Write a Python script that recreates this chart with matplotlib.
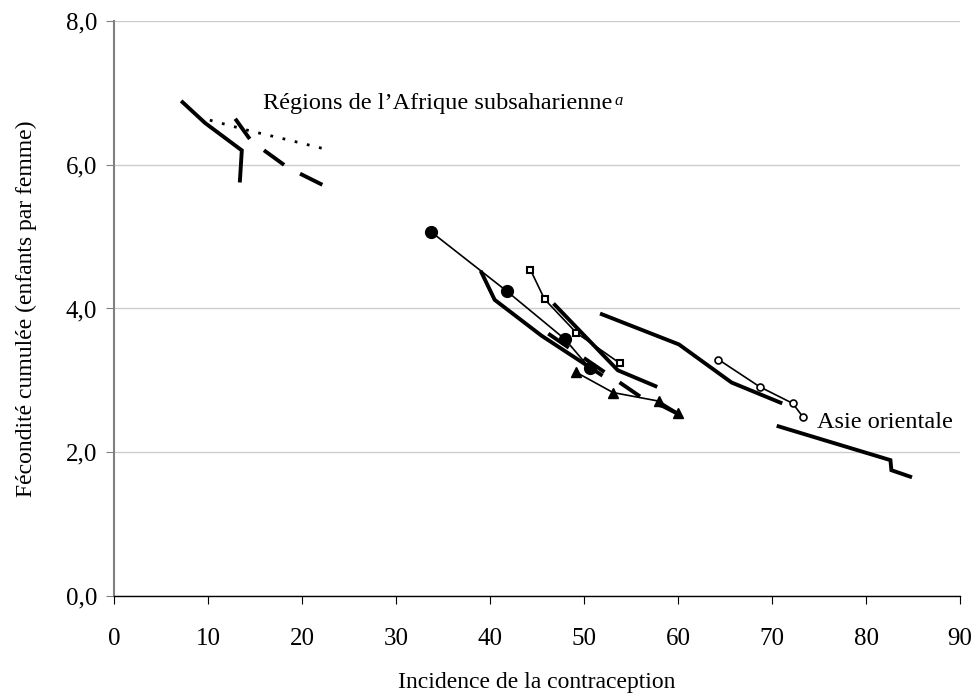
import matplotlib.pyplot as plt

plt.rcParams['font.family'] = ['Liberation Serif', 'DejaVu Serif']

# Afrique subsaharienne (three regions)
afr_solid_x = [7.3, 9.7, 13.6, 13.4]
afr_solid_y = [6.87, 6.58, 6.20, 5.78]
afr_dot_x = [10.2, 14.5, 18.4, 22.1]
afr_dot_y = [6.62, 6.47, 6.35, 6.23]
afr_dash_x = [12.9, 14.6, 18.5, 22.8]
afr_dash_y = [6.64, 6.33, 5.96, 5.68]

# middle group
circ_x = [33.7, 41.8, 48.0, 50.6]
circ_y = [5.07, 4.24, 3.57, 3.17]
sq_x = [44.3, 45.8, 49.2, 53.8]
sq_y = [4.54, 4.13, 3.66, 3.24]
tri_x = [49.2, 53.1, 58.0, 60.0]
tri_y = [3.11, 2.83, 2.71, 2.55]
thickA_x = [39.1, 40.5, 45.5, 51.8]
thickA_y = [4.50, 4.12, 3.62, 3.08]
thickB_x = [46.9, 53.6, 57.6]
thickB_y = [4.05, 3.14, 2.92]
dashM_x = [46.2, 52.8, 56.7, 58.4, 60.5]
dashM_y = [3.65, 3.06, 2.71, 2.64, 2.50]

# right group
thickC_x = [51.9, 60.1, 65.7, 70.9]
thickC_y = [3.92, 3.50, 2.97, 2.69]
ocirc_x = [64.3, 68.7, 72.2, 73.3]
ocirc_y = [3.29, 2.91, 2.68, 2.49]
asie_x = [70.7, 82.6, 82.7, 84.7]
asie_y = [2.36, 1.89, 1.75, 1.66]

yticks = [0, 2, 4, 6, 8]
ytick_labels = ['0,0', '2,0', '4,0', '6,0', '8,0']
xticks = list(range(0, 100, 10))

fig = plt.figure(figsize=(9.79, 6.93), dpi=100)
ax = fig.add_axes([0.1164, 0.140, 0.8642, 0.8297])

thick = 2.8
dash = (0, (6.4, 4.7))

ax.plot(afr_solid_x, afr_solid_y, color='black', lw=thick, solid_joinstyle='miter')
ax.plot(afr_dot_x, afr_dot_y, color='black', lw=2, linestyle=(0, (1, 3.5)))
ax.plot(afr_dash_x, afr_dash_y, color='black', lw=thick, linestyle=dash)

ax.plot(thickA_x, thickA_y, color='black', lw=thick, solid_joinstyle='miter')
ax.plot(thickB_x, thickB_y, color='black', lw=thick)
ax.plot(dashM_x, dashM_y, color='black', lw=thick, linestyle=dash)
ax.plot(circ_x, circ_y, color='black', lw=1.2, marker='o', markersize=8.5)
ax.plot(sq_x, sq_y, color='black', lw=1.2, marker='s', markersize=5,
        markerfacecolor='white', markeredgewidth=1.5)
ax.plot(tri_x, tri_y, color='black', lw=1.2, marker='^', markersize=7.5)

ax.plot(thickC_x, thickC_y, color='black', lw=thick)
ax.plot(ocirc_x, ocirc_y, color='black', lw=1.2, marker='o', markersize=5,
        markerfacecolor='white', markeredgewidth=1.2)
ax.plot(asie_x, asie_y, color='black', lw=thick, solid_joinstyle='miter')

t = ax.text(15.85, 6.85, 'Régions de l’Afrique subsaharienne', fontsize=17.5,
            va='center', ha='left')
ax.annotate('a', xy=(1, 1), xycoords=t, xytext=(1.5, 0), textcoords='offset points',
            va='top', ha='left', fontsize=12, style='italic')
ax.text(74.8, 2.41, 'Asie orientale', fontsize=17.5, va='center', ha='left')

ax.set_xlim(0, 90)
ax.set_ylim(0, 8)
ax.set_xticks(xticks)
ax.set_yticks(yticks)
ax.set_yticklabels(ytick_labels)
ax.tick_params(axis='both', direction='out', length=6, labelsize=18)
ax.tick_params(axis='x', pad=17)
ax.tick_params(axis='y', color='#808080', pad=6)
ax.grid(axis='y', color='#cccccc', lw=1)
ax.set_axisbelow(True)

for s in ['top', 'right']:
    ax.spines[s].set_visible(False)
ax.spines['left'].set_color('#808080')
ax.spines['left'].set_linewidth(1.5)
ax.spines['bottom'].set_color('black')
ax.spines['bottom'].set_linewidth(1)

ax.set_ylabel('Fécondité cumulée (enfants par femme)', fontsize=17, labelpad=21)
ax.set_xlabel('Incidence de la contraception', fontsize=17, labelpad=16)

fig.savefig('out.png', dpi=100)
